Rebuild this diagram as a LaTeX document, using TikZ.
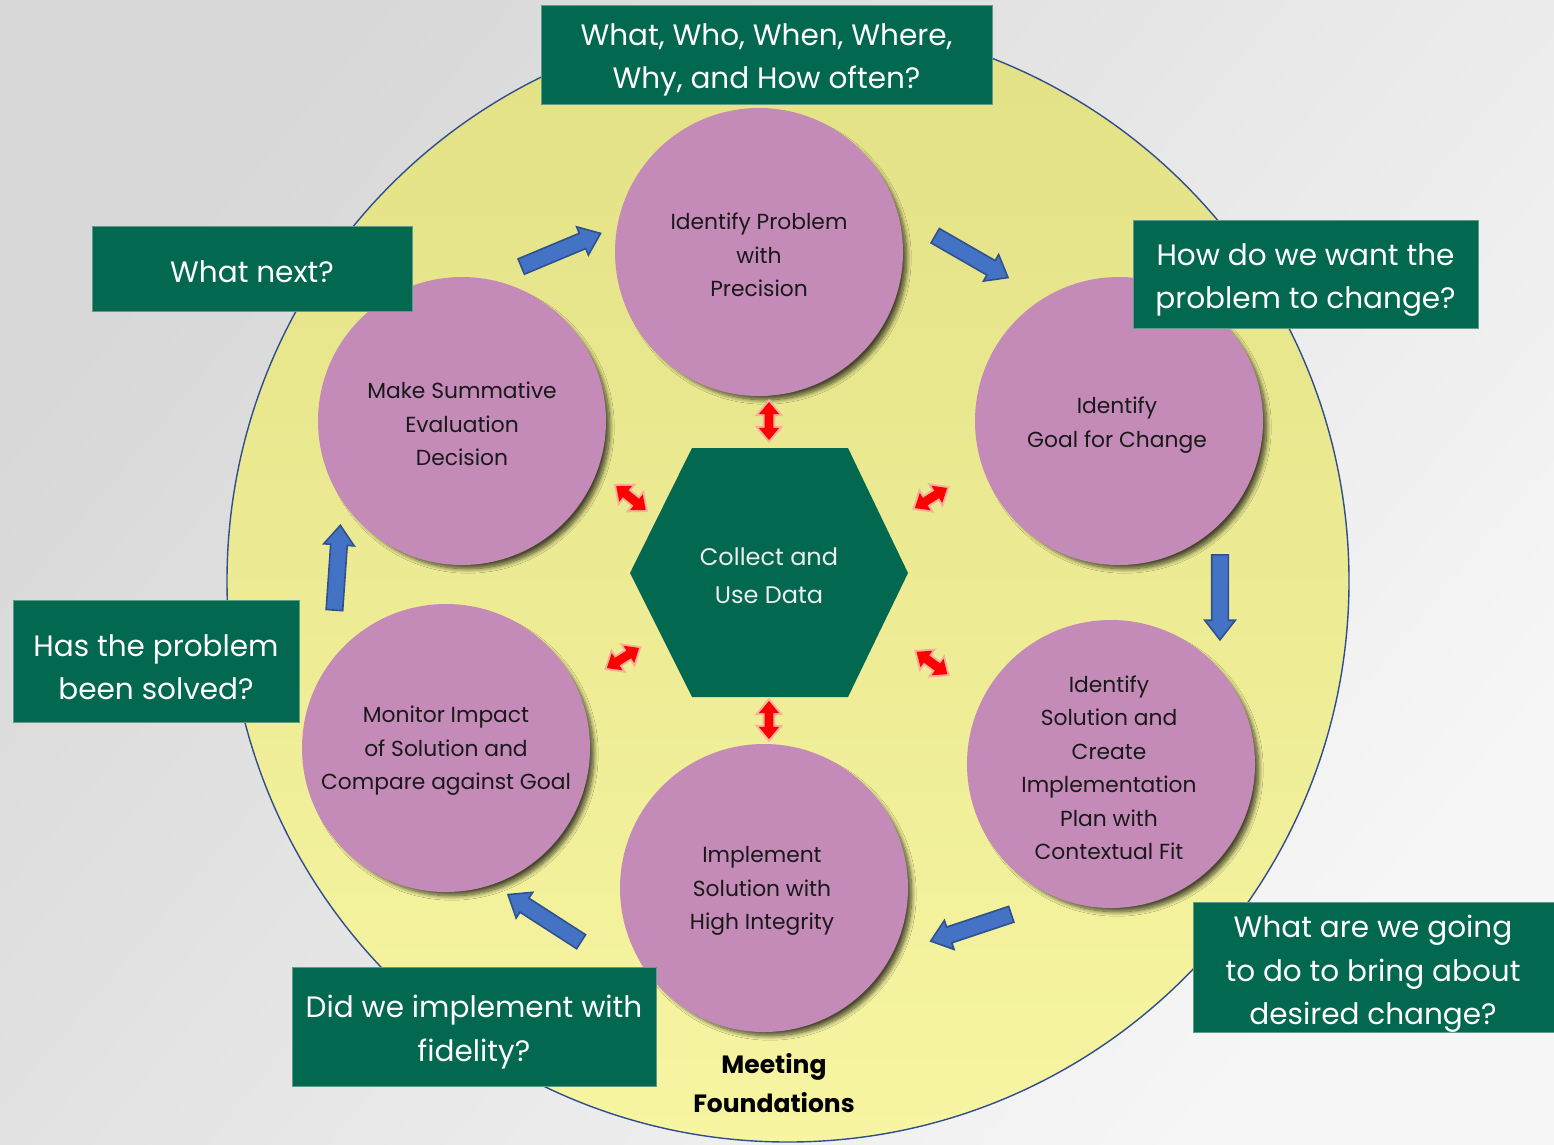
\documentclass[tikz,border=0pt]{standalone}
\usepackage{fontspec}
\setmainfont{Poppins}
\usetikzlibrary{shapes.arrows, shadows.blur}

\definecolor{bgdark}{HTML}{D8D8D8}
\definecolor{bglight}{HTML}{F6F6F6}
\definecolor{ringtop}{HTML}{E2E185}
\definecolor{ringbot}{HTML}{F7F5A2}
\definecolor{ringedge}{HTML}{2E4F8C}
\definecolor{stagefill}{HTML}{C48AB8}
\definecolor{deepgreen}{HTML}{02684F}
\definecolor{boxedge}{HTML}{5E9C88}
\definecolor{flowblue}{HTML}{4472C4}
\definecolor{flowedge}{HTML}{2F528F}
\definecolor{glowpink}{HTML}{F6B09C}

\tikzset{
  stage/.style={circle, minimum size=288pt, inner sep=0pt, fill=stagefill,
    blur shadow={shadow xshift=6pt, shadow yshift=-6pt, shadow scale=0.985,
      shadow blur radius=4.5pt, shadow blur steps=10, shadow opacity=70}},
  question/.style={rectangle, fill=deepgreen, draw=boxedge, line width=1pt,
    inner sep=0pt},
  qtext/.style={text=white, align=center, inner sep=0pt,
    font=\fontsize{29.5}{43.5}\selectfont},
  flow/.style={single arrow, fill=flowblue, draw=flowedge, line width=1.6pt,
    inner xsep=0pt, inner ysep=7.5pt, minimum width=0pt,
    single arrow head extend=7pt, single arrow tip angle=76},
  link/.style={double arrow, fill=red, inner xsep=0pt, inner ysep=4.2pt,
    minimum width=0pt, double arrow head extend=5.8pt, double arrow tip angle=80,
    minimum height=38pt, preaction={draw=glowpink, line width=4pt}}
}

\begin{document}
\begin{tikzpicture}[x=1pt, y=-1pt]
  % backdrop
  \shade[top color=bgdark, bottom color=bglight, shading angle=50]
    (0,0) rectangle (1554,1144);
  \useasboundingbox (0,0) rectangle (1554,1144);

  % large ring
  \node[circle, minimum size=1122pt, inner sep=0pt, draw=ringedge, line width=1.4pt,
        top color=ringtop, bottom color=ringbot] (ring) at (788,581) {};

  % centre hexagon
  \fill[deepgreen] (692,448) -- (848,448) -- (908,573) -- (848,697)
    -- (692,697) -- (630,573) -- cycle;
  \node[text=white!93!black, align=center, font=\fontsize{24}{38}\selectfont]
    (data) at (769,576) {Collect and\\Use Data};

  % stages of the cycle
  \node[stage] (problem)  at (759,252)  {};
  \node[stage] (goal)     at (1119,421) {};
  \node[stage] (solution) at (1111,764) {};
  \node[stage] (implement) at (764,888) {};
  \node[stage] (monitor)  at (446,748)  {};
  \node[stage] (decide)   at (462,421)  {};
  \begin{scope}[every node/.style={align=center, text=black!90,
      font=\fontsize{21.8}{33.5}\selectfont}]
    \node (problemtext)  at (759,255)  {Identify Problem\\with\\Precision};
    \node (goaltext)     at (1117,425) {Identify\\Goal for Change};
    \node (solutiontext) at (1109,768) {Identify\\Solution and\\Create\\Implementation\\Plan with\\Contextual Fit};
    \node (implementtext) at (762,891) {Implement\\Solution with\\High Integrity};
    \node (monitortext)  at (446,751)  {Monitor Impact\\of Solution and\\Compare against Goal};
    \node (decidetext)   at (462,424)  {Make Summative\\Evaluation\\Decision};
  \end{scope}

  % cycle arrows
  \node[flow, minimum height=86pt, rotate=22.7]  (f1) at (556,252) {};
  \node[flow, minimum height=84pt, rotate=-29.9] (f2) at (967,254) {};
  \node[flow, minimum height=85pt, rotate=-90]   (f3) at (1220,592) {};
  \node[flow, minimum height=85pt, rotate=198.4] (f4) at (976,926) {};
  \node[flow, minimum height=87pt, rotate=147.2] (f5) at (549,921) {};
  \node[flow, minimum height=85pt, rotate=86]    (f6) at (337,573) {};

  % links between data and each stage
  \node[link, rotate=90]  (l1) at (769,421) {};
  \node[link, rotate=32]  (l2) at (931,498) {};
  \node[link, rotate=-36] (l3) at (932,663) {};
  \node[link, rotate=90]  (l4) at (769,720) {};
  \node[link, rotate=32]  (l5) at (623,658) {};
  \node[link, rotate=-39] (l6) at (631,498) {};

  % guiding questions
  \node[question, minimum width=451pt, minimum height=99pt]  (q1) at (766.5,54.5) {};
  \node[qtext] (q1t) at (766.5,60) {What, Who, When, Where,\\Why, and How often?};
  \node[question, minimum width=320pt, minimum height=85pt]  (q2) at (252,268.5) {};
  \node[qtext] (q2t) at (252,272) {What next?};
  \node[question, minimum width=345pt, minimum height=108pt] (q3) at (1305.5,274) {};
  \node[qtext] (q3t) at (1305.5,280) {How do we want the\\problem to change?};
  \node[question, minimum width=286pt, minimum height=122pt] (q4) at (156,661) {};
  \node[qtext] (q4t) at (156,667) {Has the problem\\been solved?};
  \node[question, minimum width=364pt, minimum height=119pt] (q5) at (474,1026.5) {};
  \node[qtext] (q5t) at (474,1032) {Did we implement with\\fidelity?};
  \node[question, minimum width=364pt, minimum height=130pt] (q6) at (1375,967) {};
  \node[qtext] (q6t) at (1373,974) {What are we going\\to do to bring about\\desired change?};

  % foundation label
  \node[align=center, font=\fontsize{25}{39}\selectfont\bfseries, text=black]
    (found) at (774,1083) {Meeting\\Foundations};
\end{tikzpicture}
\end{document}
